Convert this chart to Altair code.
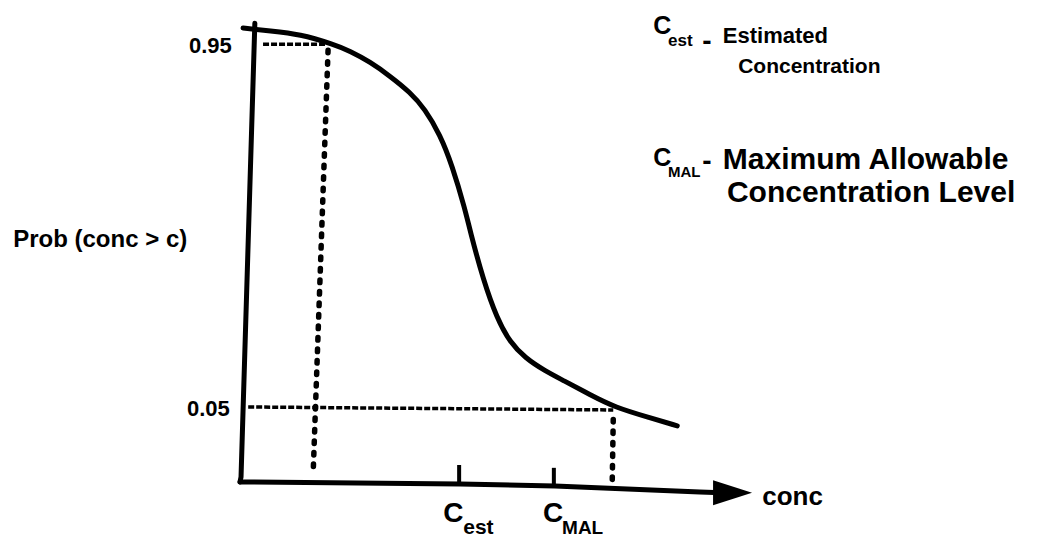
import altair as alt
import pandas as pd

# ---- data (conc units on x, probability on y) ----
curve_conc = [0.06, 0.59, 1.17, 1.82, 2.15, 2.54, 2.93, 3.32, 3.61, 3.91, 4.14, 4.40,
              4.49, 4.75, 5.02, 5.27, 5.57, 5.96, 6.31, 6.84, 7.32, 8.01, 8.54]
curve_prob = [0.990, 0.983, 0.975, 0.950, 0.933, 0.906, 0.871, 0.831, 0.790, 0.725, 0.651, 0.539,
              0.489, 0.366, 0.270, 0.212, 0.172, 0.140, 0.117, 0.081, 0.050, 0.024, 0.004]

# axes drawn as hand-sketched lines
yaxis_conc = [0.29, 0.02, 0.0]
yaxis_prob = [1.002, -0.123, -0.135]
xaxis_conc = [0.0, 4.30, 6.15, 8.98, 9.40]
xaxis_prob = [-0.135, -0.140, -0.145, -0.160, -0.162]
arrow_conc = [9.62]
arrow_prob = [-0.162]

# reference levels
hi_dash_conc = [0.45, 1.66]
hi_dash_prob = [0.950, 0.950]
lo_dash_conc = [0.16, 7.29]
lo_dash_prob = [0.0508, 0.0434]
left_dot_conc = [1.72, 1.43]
left_dot_prob = [0.935, -0.110]
right_dot_conc = [7.29, 7.27]
right_dot_prob = [0.020, -0.135]

# tick marks on the conc axis
c_est = 4.28
c_mal = 6.13
tick_conc = [c_est, c_est, c_mal, c_mal]
tick_prob = [-0.093, -0.140, -0.100, -0.145]
tick_id = ["est", "est", "mal", "mal"]

# text annotations
txt_right = pd.DataFrame({
    "conc": [-0.16, -0.20],
    "prob": [0.945, 0.046],
    "label": ["0.95", "0.05"],
})
txt_left_big = pd.DataFrame({
    "conc": [-4.43, 10.20, 3.97, 5.92, 8.07, 8.07],
    "prob": [0.465, -0.172, -0.214, -0.214, 0.995, 0.668],
    "label": ["Prob (conc > c)", "conc", "C", "C", "C", "C"],
    "size": [24, 26, 28, 28, 25, 25],
})
txt_sub = pd.DataFrame({
    "conc": [4.36, 6.29, 8.36, 8.36],
    "prob": [-0.249, -0.249, 0.958, 0.633],
    "label": ["est", "MAL", "est", "MAL"],
    "size": [21, 19, 17, 15],
})
txt_legend = pd.DataFrame({
    "conc": [9.12, 9.12],
    "prob": [0.955, 0.658],
    "label": ["-", "-"],
})
txt_legend_words = pd.DataFrame({
    "conc": [9.43, 9.73, 9.43, 9.51],
    "prob": [0.970, 0.893, 0.663, 0.581],
    "label": ["Estimated", "Concentration", "Maximum Allowable", "Concentration Level"],
    "size": [22, 21, 30, 30],
})

FONT = "Liberation Sans"

xs = alt.Scale(domain=[0, 10])
ys = alt.Scale(domain=[-0.15, 1.0])


def line_df(xv, yv, seg="a"):
    return pd.DataFrame({"conc": xv, "prob": yv, "i": list(range(len(xv))), "seg": [seg] * len(xv)})


def enc(ch):
    return ch.encode(
        x=alt.X("conc:Q", scale=xs, axis=None),
        y=alt.Y("prob:Q", scale=ys, axis=None),
    )


curve = enc(alt.Chart(line_df(curve_conc, curve_prob)).mark_line(
    color="black", strokeWidth=5, strokeCap="round", strokeJoin="round", interpolate="basis"
)).encode(order="i:Q")

axes_df = pd.concat([line_df(yaxis_conc, yaxis_prob, "y"), line_df(xaxis_conc, xaxis_prob, "x")])
axes = enc(alt.Chart(axes_df).mark_line(
    color="black", strokeWidth=5, strokeCap="round", strokeJoin="round"
)).encode(order="i:Q", detail="seg:N")

ticks_df = pd.DataFrame({"conc": tick_conc, "prob": tick_prob, "seg": tick_id, "i": [0, 1, 0, 1]})
ticks = enc(alt.Chart(ticks_df).mark_line(color="black", strokeWidth=4)).encode(
    order="i:Q", detail="seg:N")

arrow = enc(alt.Chart(pd.DataFrame({"conc": arrow_conc, "prob": arrow_prob})).mark_point(
    shape="M -1 -0.64 L 1 0 L -1 0.64 Z", size=1521, filled=True, color="black", opacity=1
))

dash_df = pd.concat([line_df(hi_dash_conc, hi_dash_prob, "hi"), line_df(lo_dash_conc, lo_dash_prob, "lo")])
dashes = enc(alt.Chart(dash_df).mark_line(
    color="black", strokeWidth=3.5, strokeDash=[6, 2]
)).encode(order="i:Q", detail="seg:N")

dot_df = pd.concat([line_df(left_dot_conc, left_dot_prob, "l"), line_df(right_dot_conc, right_dot_prob, "r")])
dots = enc(alt.Chart(dot_df).mark_line(
    color="black", strokeWidth=5.5, strokeDash=[2.5, 9], strokeCap="round"
)).encode(order="i:Q", detail="seg:N")

t_right = enc(alt.Chart(txt_right).mark_text(
    align="right", baseline="middle", font=FONT, fontWeight="bold", fontSize=22, color="black"
)).encode(text="label:N")

t_big = enc(alt.Chart(txt_left_big).mark_text(
    align="left", baseline="middle", font=FONT, fontWeight="bold", color="black"
)).encode(text="label:N", size=alt.Size("size:Q", scale=None, legend=None))

t_sub = enc(alt.Chart(txt_sub).mark_text(
    align="left", baseline="middle", font=FONT, fontWeight="bold", color="black"
)).encode(text="label:N", size=alt.Size("size:Q", scale=None, legend=None))

t_hyph = enc(alt.Chart(txt_legend).mark_text(
    align="center", baseline="middle", font=FONT, fontWeight="bold", fontSize=28, color="black"
)).encode(text="label:N")

t_words = enc(alt.Chart(txt_legend_words).mark_text(
    align="left", baseline="middle", font=FONT, fontWeight="bold", color="black"
)).encode(text="label:N", size=alt.Size("size:Q", scale=None, legend=None))

chart = alt.layer(
    dashes, dots, curve, axes, ticks, arrow, t_right, t_big, t_sub, t_hyph, t_words
).properties(
    width=512,
    height=464,
    padding={"left": 240, "top": 24, "right": 291, "bottom": 56},
    autosize=alt.AutoSizeParams(type="none"),
    background="white",
).configure_view(stroke=None)

chart.save("out.html", embed_options={"renderer": "svg", "actions": False})
